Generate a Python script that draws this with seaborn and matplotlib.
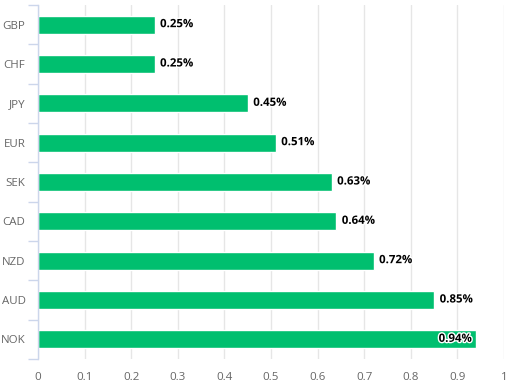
import matplotlib
matplotlib.use("Agg")
import matplotlib.pyplot as plt
import matplotlib.patheffects as pe
import seaborn as sns
import pandas as pd
import numpy as np

currencies = ["GBP", "CHF", "JPY", "EUR", "SEK", "CAD", "NZD", "AUD", "NOK"]
values = [0.25, 0.25, 0.45, 0.51, 0.63, 0.64, 0.72, 0.85, 0.94]
xticks = [0, 0.1, 0.2, 0.3, 0.4, 0.5, 0.6, 0.7, 0.8, 0.9, 1]
xtick_labels = ["0", "0.1", "0.2", "0.3", "0.4", "0.5", "0.6", "0.7", "0.8", "0.9", "1"]

df = pd.DataFrame({"currency": currencies, "value": values})

sns.set_theme(style="white")
plt.rcParams['font.family'] = ['Open Sans', 'DejaVu Sans']

fig = plt.figure(figsize=(5.22, 3.92), dpi=100)
ax = fig.add_axes([38/522, 1 - 359/392, (504-38)/522, (359-5)/392])

sns.barplot(data=df, x="value", y="currency", order=currencies, orient="h",
            color="#00BF6F", saturation=1, width=0.46, ax=ax, zorder=3)

ax.set_xlim(0, 1)
ax.set_ylim(len(currencies) - 0.5, -0.5)
ax.set_xticks(xticks)
ax.set_xticklabels(xtick_labels)
ax.set_xlabel("")
ax.set_ylabel("")

for s in ["top", "right", "bottom"]:
    ax.spines[s].set_visible(False)
ax.spines["left"].set_color("#ccd6eb")
ax.spines["left"].set_linewidth(1)
ax.spines["left"].set_zorder(4)

ax.grid(axis="x", color="#e6e6e6", linewidth=1, zorder=0)
ax.set_axisbelow(True)

ax.tick_params(axis="x", length=0, pad=9, labelsize=8.25, labelcolor="#666666")
ax.tick_params(axis="y", which="major", left=True, length=0, pad=9, labelsize=8.25, labelcolor="#666666")
ax.set_yticks(np.arange(-0.5, len(currencies), 1), minor=True)
ax.tick_params(axis="y", which="minor", left=True, direction="out", length=7.2, width=1, color="#ccd6eb")

outline = [pe.withStroke(linewidth=2, foreground="white")]
for i, v in enumerate(values):
    label = f"{v:.2f}%"
    if v > 0.9:
        ax.annotate(label, (v, i), xytext=(-3, 0), textcoords="offset points",
                    ha="right", va="center", fontsize=8.25, fontweight="bold",
                    color="black", path_effects=outline, zorder=5)
    else:
        ax.annotate(label, (v, i), xytext=(4, 0), textcoords="offset points",
                    ha="left", va="center", fontsize=8.25, fontweight="bold",
                    color="black", path_effects=outline, zorder=5)

fig.savefig("out.png", dpi=100)
